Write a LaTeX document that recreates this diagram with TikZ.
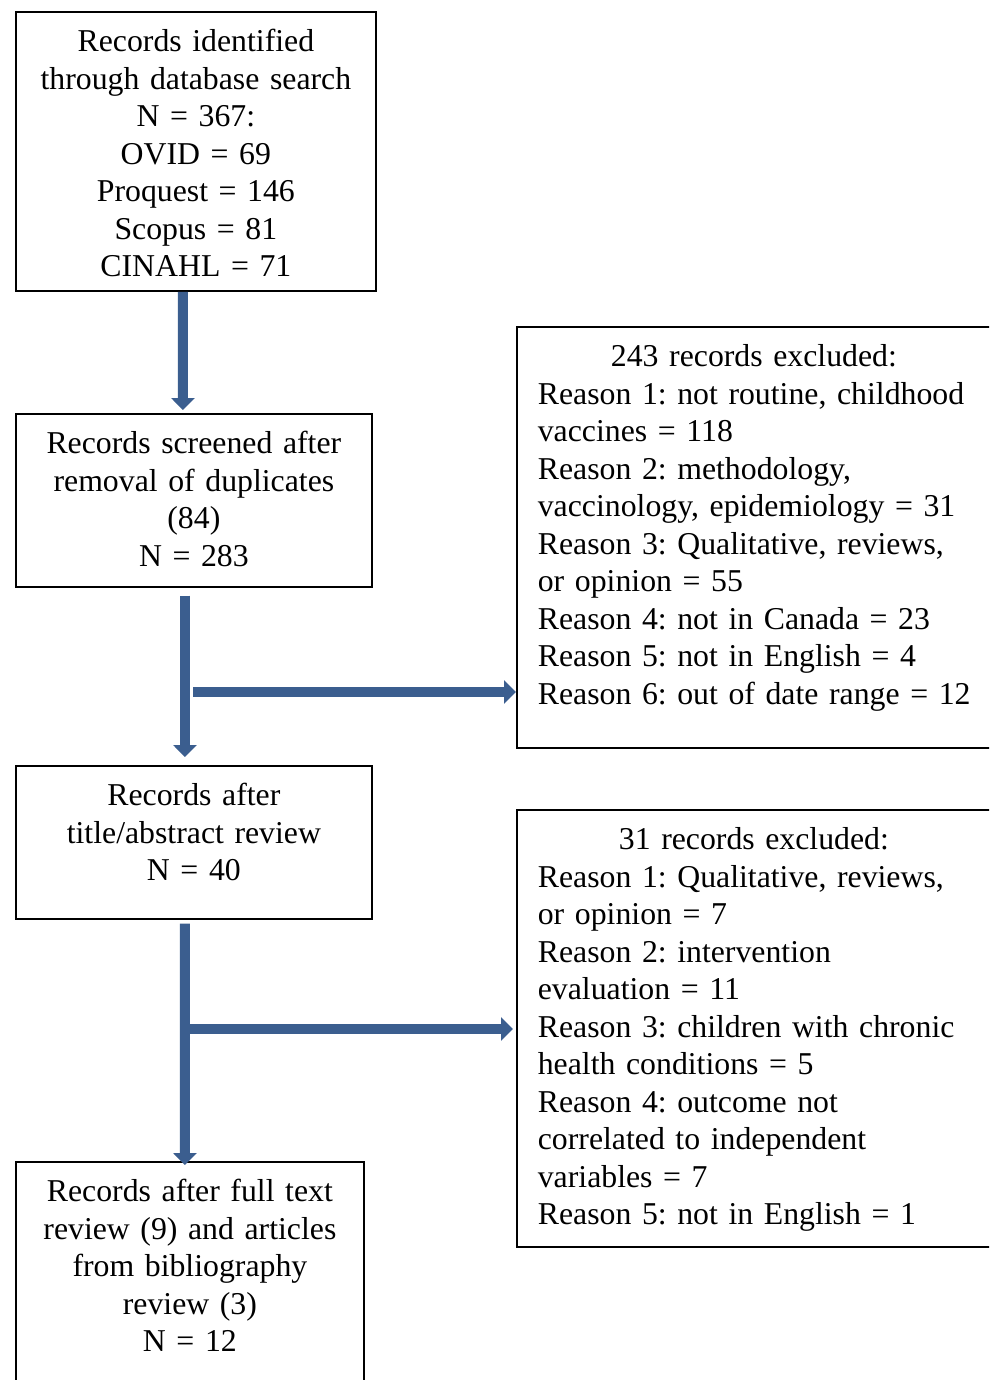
\documentclass[tikz,border=0pt]{standalone}
\usepackage{fontspec}
\setmainfont{Liberation Serif}
\usetikzlibrary{arrows.meta,positioning,calc}
\definecolor{flowblue}{RGB}{59,94,143}
\frenchspacing
\tikzset{
	every node/.style={font=\fontsize{22.6pt}{26.67pt}\selectfont},
	stage/.style={
			draw,
			line width=1.2pt,
			anchor=north west,
			align=center,
			inner xsep=0.3cm,
			inner ysep=0.4cm,
			text height=0.6cm
		},
	excl/.style={
			draw,
			line width=1.2pt,
			anchor=north west,
			text width=10.8cm,
			inner xsep=0.525cm,
			inner ysep=0.4cm,
			text height=0.6cm
		},
	flow/.style={
			draw=flowblue,
			line width=0.25cm,
			-{Triangle[width=0.575cm,length=0.3cm]}
		}
}

\begin{document}
\begin{tikzpicture}[x=0.025cm,y=-0.025cm]
	\useasboundingbox (0,0) rectangle (989,1380);
	\clip (0,0) rectangle (989,1380);

	\node[stage, text width=8.4cm, text depth=5.575cm] at (15,11) (search) {Records identified\\
		through database search\\
		N = 367:\\
		OVID = 69\\
		Proquest = 146\\
		Scopus = 81\\
		CINAHL = 71};

	\node[stage, text width=8.3cm, text depth=2.925cm] at (15,413) (screened) {Records screened after\\
		removal of duplicates\\
		(84)\\
		N = 283};

	\node[stage, text width=8.3cm, text depth=2.425cm] at (15,765) (abstract) {Records after\\
		title/abstract review\\
		N = 40};

	\node[stage, text width=8.1cm, text depth=4.6cm] at (15,1161) (fulltext) {Records after full text\\
		review (9) and articles\\
		from bibliography\\
		review (3)\\
		N = 12};

	\node[excl, text depth=9.125cm] at (516,326) (exclA) {{\centering 243 records excluded:\par}
		\raggedright\hyphenpenalty=10000
		Reason 1: not routine, childhood\\
		vaccines = 118\\
		Reason 2: methodology,\\
		vaccinology, epidemiology = 31\\
		Reason 3: Qualitative, reviews,\\
		or opinion = 55\\
		Reason 4: not in Canada = 23\\
		Reason 5: not in English = 4\\
		\mbox{Reason 6: out of date range = 12}};

	\node[excl, text depth=9.525cm] at (516,809) (exclB) {{\centering 31 records excluded:\par}
		\raggedright\hyphenpenalty=10000
		Reason 1: Qualitative, reviews,\\
		or opinion = 7\\
		Reason 2: intervention\\
		evaluation = 11\\
		Reason 3: children with chronic\\
		health conditions = 5\\
		Reason 4: outcome not\\
		correlated to independent\\
		variables = 7\\
		Reason 5: not in English = 1};

	\coordinate (cutA) at (193,692);
	\coordinate (cutB) at (190,1029);

	\draw[flow] ([xshift=-0.325cm]search.south) -- ([xshift=-0.275cm,yshift=0.075cm]screened.north);
	\draw[flow] ([xshift=-0.225cm,yshift=-0.2cm]screened.south) -- ([xshift=-0.225cm,yshift=0.2cm]abstract.north);
	\draw[flow] ([xshift=-0.225cm,yshift=-0.1cm]abstract.south) -- ([xshift=-0.125cm,yshift=-0.1cm]fulltext.north);
	\draw[flow] (cutA) -- (cutA -| exclA.west);
	\draw[flow] (cutB) -- ([xshift=-0.075cm]cutB -| exclB.west);
\end{tikzpicture}
\end{document}
